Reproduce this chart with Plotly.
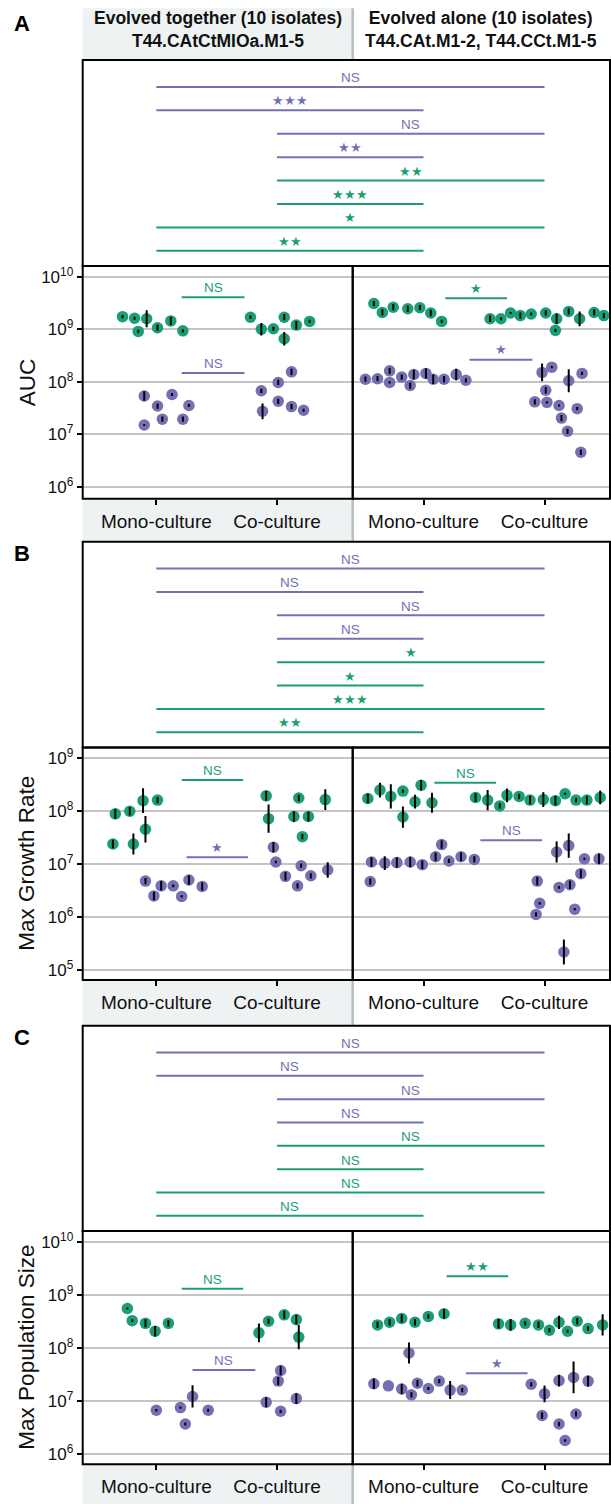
import plotly.graph_objects as go

# ---------------- data ----------------
FACETS = ["Evolved together (10 isolates)<br>T44.CAtCtMIOa.M1-5",
          "Evolved alone (10 isolates)<br>T44.CAt.M1-2, T44.CCt.M1-5"]
CULTURES = ["Mono-culture", "Co-culture"]
METRICS = ["AUC", "Max Growth Rate", "Max Population Size"]
PANEL_LETTERS = ["A", "B", "C"]
TICK_EXPONENTS = [[6, 7, 8, 9, 10], [5, 6, 7, 8, 9], [6, 7, 8, 9, 10]]

# each point: (jitter offset, log10 value, log10 half-width of the error bar)
AUC_TOG_MONO_G = [(-0.28, 9.24, 0.03), (-0.18, 9.21, 0.03), (-0.15, 8.96, 0.03), (-0.08, 9.20, 0.16),
                  (0.01, 9.03, 0.06), (0.12, 9.16, 0.08), (0.22, 8.97, 0.03)]
AUC_TOG_CO_G = [(-0.22, 9.23, 0.03), (-0.13, 9.00, 0.12), (-0.03, 9.01, 0.04), (0.06, 9.23, 0.06),
                (0.06, 8.82, 0.13), (0.16, 9.08, 0.08), (0.27, 9.15, 0.03)]
AUC_TOG_MONO_P = [(-0.10, 7.73, 0.09), (0.01, 7.54, 0.05), (0.13, 7.76, 0.03), (-0.10, 7.18, 0.02),
                  (0.05, 7.29, 0.05), (0.22, 7.29, 0.05), (0.27, 7.55, 0.03)]
AUC_TOG_CO_P = [(-0.13, 7.83, 0.04), (0.01, 7.99, 0.05), (0.12, 8.19, 0.06), (0.01, 7.63, 0.05),
                (0.12, 7.53, 0.05), (0.22, 7.46, 0.03), (-0.12, 7.44, 0.15)]
AUC_ALO_MONO_G = [(-0.41, 9.49, 0.05), (-0.34, 9.32, 0.06), (-0.25, 9.42, 0.06), (-0.13, 9.39, 0.06),
                  (-0.03, 9.41, 0.05), (0.06, 9.31, 0.06), (0.15, 9.15, 0.03)]
AUC_ALO_CO_G = [(-0.45, 9.20, 0.06), (-0.36, 9.20, 0.03), (-0.28, 9.31, 0.02), (-0.20, 9.26, 0.06),
                (-0.11, 9.29, 0.03), (0.01, 9.31, 0.05), (0.10, 9.20, 0.10), (0.09, 8.98, 0.03),
                (0.20, 9.34, 0.06), (0.29, 9.20, 0.14), (0.41, 9.32, 0.06), (0.49, 9.26, 0.05)]
AUC_ALO_MONO_P = [(-0.48, 8.05, 0.05), (-0.38, 8.06, 0.05), (-0.28, 8.21, 0.06), (-0.28, 7.99, 0.02),
                  (-0.18, 8.09, 0.05), (-0.11, 7.93, 0.06), (-0.08, 8.14, 0.09), (0.02, 8.16, 0.10),
                  (0.08, 8.05, 0.09), (0.17, 8.05, 0.06), (0.27, 8.14, 0.11), (0.35, 8.03, 0.04)]
AUC_ALO_CO_P = [(-0.02, 8.18, 0.17), (0.06, 8.28, 0.02), (0.01, 7.84, 0.06), (-0.08, 7.62, 0.05),
                (0.02, 7.61, 0.02), (0.12, 7.55, 0.02), (0.14, 7.31, 0.06), (0.19, 7.06, 0.05),
                (0.20, 8.02, 0.22), (0.27, 7.49, 0.03), (0.31, 8.16, 0.03), (0.30, 6.66, 0.05)]

MGR_TOG_MONO_G = [(-0.34, 7.95, 0.09), (-0.22, 8.00, 0.08), (-0.11, 8.20, 0.235), (0.01, 8.21, 0.06),
                  (-0.36, 7.38, 0.08), (-0.19, 7.38, 0.20), (-0.09, 7.66, 0.25)]
MGR_TOG_CO_G = [(-0.09, 8.29, 0.09), (-0.07, 7.86, 0.265), (0.18, 8.25, 0.06), (0.14, 7.90, 0.10),
                (0.21, 7.52, 0.05), (0.26, 7.90, 0.09), (0.40, 8.22, 0.195)]
MGR_TOG_MONO_P = [(-0.09, 6.68, 0.06), (-0.02, 6.40, 0.08), (0.04, 6.59, 0.09), (0.14, 6.59, 0.025),
                  (0.21, 6.39, 0.02), (0.27, 6.70, 0.09), (0.38, 6.58, 0.08)]
MGR_TOG_CO_P = [(-0.03, 7.32, 0.10), (-0.01, 7.04, 0.025), (0.07, 6.77, 0.08), (0.17, 6.59, 0.05),
                (0.20, 6.97, 0.04), (0.28, 6.78, 0.05), (0.42, 6.89, 0.145)]
MGR_ALO_MONO_G = [(-0.46, 8.24, 0.09), (-0.36, 8.40, 0.14), (-0.27, 8.28, 0.23), (-0.17, 7.89, 0.20),
                  (-0.17, 8.38, 0.03), (-0.07, 8.18, 0.13), (-0.02, 8.49, 0.10), (0.07, 8.16, 0.19)]
MGR_ALO_CO_G = [(-0.57, 8.26, 0.08), (-0.47, 8.21, 0.19), (-0.37, 8.10, 0.05), (-0.31, 8.30, 0.13),
                (-0.21, 8.28, 0.05), (-0.12, 8.21, 0.08), (-0.01, 8.22, 0.14), (0.09, 8.20, 0.09),
                (0.17, 8.33, 0.02), (0.26, 8.21, 0.04), (0.35, 8.21, 0.08), (0.46, 8.26, 0.13)]
MGR_ALO_MONO_P = [(-0.44, 6.67, 0.06), (-0.43, 7.04, 0.09), (-0.32, 7.02, 0.13), (-0.22, 7.03, 0.10),
                  (-0.11, 7.04, 0.10), (-0.01, 6.99, 0.08), (0.10, 7.14, 0.08), (0.15, 7.37, 0.08),
                  (0.21, 7.06, 0.04), (0.31, 7.14, 0.08), (0.42, 7.09, 0.06)]
MGR_ALO_CO_P = [(-0.06, 6.68, 0.08), (-0.04, 6.26, 0.025), (-0.07, 6.05, 0.04), (0.10, 7.23, 0.20),
                (0.20, 7.35, 0.23), (0.12, 6.56, 0.025), (0.21, 6.61, 0.08), (0.30, 6.82, 0.08),
                (0.33, 7.10, 0.02), (0.25, 6.15, 0.02), (0.45, 7.10, 0.10), (0.16, 5.34, 0.235)]

MPS_TOG_MONO_G = [(-0.24, 8.74, 0.02), (-0.20, 8.51, 0.025), (-0.09, 8.46, 0.075), (-0.01, 8.31, 0.10),
                  (0.10, 8.46, 0.06)]
MPS_TOG_CO_G = [(-0.15, 8.28, 0.175), (-0.07, 8.50, 0.05), (0.06, 8.62, 0.075), (0.16, 8.53, 0.09),
                (0.18, 8.20, 0.23)]
MPS_TOG_MONO_P = [(0.00, 6.82, 0.025), (0.20, 6.87, 0.02), (0.24, 6.56, 0.03), (0.30, 7.08, 0.21),
                  (0.43, 6.82, 0.03)]
MPS_TOG_CO_P = [(-0.09, 6.97, 0.095), (0.03, 6.80, 0.03), (0.03, 7.57, 0.09), (0.01, 7.37, 0.075),
                (0.16, 7.04, 0.10)]
MPS_ALO_MONO_G = [(-0.38, 8.43, 0.06), (-0.28, 8.48, 0.06), (-0.18, 8.55, 0.075), (-0.07, 8.48, 0.06),
                  (0.04, 8.59, 0.04), (0.17, 8.64, 0.09)]
MPS_ALO_CO_G = [(-0.38, 8.45, 0.09), (-0.28, 8.43, 0.11), (-0.16, 8.46, 0.04), (-0.05, 8.43, 0.06),
                (0.04, 8.33, 0.04), (0.12, 8.48, 0.125), (0.19, 8.31, 0.03), (0.27, 8.50, 0.06),
                (0.36, 8.36, 0.04), (0.48, 8.43, 0.20)]
MPS_ALO_MONO_P = [(-0.12, 7.90, 0.20), (-0.41, 7.32, 0.10), (-0.29, 7.28, 0.0), (-0.18, 7.22, 0.10),
                  (-0.10, 7.11, 0.05), (-0.05, 7.33, 0.06), (0.04, 7.23, 0.03), (0.13, 7.37, 0.04),
                  (0.22, 7.20, 0.17), (0.32, 7.20, 0.04)]
MPS_ALO_CO_P = [(-0.11, 7.31, 0.04), (0.00, 7.13, 0.157), (-0.02, 6.72, 0.06), (0.12, 6.56, 0.04),
                (0.17, 6.25, 0.025), (0.12, 7.38, 0.11), (0.24, 7.44, 0.30), (0.26, 6.75, 0.05),
                (0.36, 7.37, 0.10)]

# within-facet tests: (species, xmin, xmax, log10 level, label)
AUC_SIG_TOG = [("G", 1.21, 1.73, 9.61, "NS"), ("P", 1.21, 1.73, 8.17, "NS")]
AUC_SIG_ALO = [("G", 1.18, 1.69, 9.59, "*"), ("P", 1.38, 1.90, 8.42, "*")]
MGR_SIG_TOG = [("G", 1.21, 1.72, 8.59, "NS"), ("P", 1.25, 1.76, 7.13, "*")]
MGR_SIG_ALO = [("G", 1.09, 1.60, 8.54, "NS"), ("P", 1.47, 1.98, 7.45, "NS")]
MPS_SIG_TOG = [("G", 1.21, 1.72, 9.11, "NS"), ("P", 1.30, 1.82, 7.58, "NS")]
MPS_SIG_ALO = [("G", 1.19, 1.70, 9.35, "**"), ("P", 1.35, 1.86, 7.52, "*")]

# between-facet tests (top to bottom): species, (facet, culture) vs (facet, culture)
COMPARISONS = [("P", (0, 1), (1, 2)), ("P", (0, 1), (1, 1)), ("P", (0, 2), (1, 2)), ("P", (0, 2), (1, 1)),
               ("G", (0, 2), (1, 2)), ("G", (0, 2), (1, 1)), ("G", (0, 1), (1, 2)), ("G", (0, 1), (1, 1))]
AUC_CMP_LABELS = ["NS", "***", "NS", "**", "**", "***", "*", "**"]
MGR_CMP_LABELS = ["NS", "NS", "NS", "NS", "*", "*", "***", "**"]
MPS_CMP_LABELS = ["NS", "NS", "NS", "NS", "NS", "NS", "NS", "NS"]

PANEL_POINTS = [
    [{"G": [AUC_TOG_MONO_G, AUC_TOG_CO_G], "P": [AUC_TOG_MONO_P, AUC_TOG_CO_P]},
     {"G": [AUC_ALO_MONO_G, AUC_ALO_CO_G], "P": [AUC_ALO_MONO_P, AUC_ALO_CO_P]}],
    [{"G": [MGR_TOG_MONO_G, MGR_TOG_CO_G], "P": [MGR_TOG_MONO_P, MGR_TOG_CO_P]},
     {"G": [MGR_ALO_MONO_G, MGR_ALO_CO_G], "P": [MGR_ALO_MONO_P, MGR_ALO_CO_P]}],
    [{"G": [MPS_TOG_MONO_G, MPS_TOG_CO_G], "P": [MPS_TOG_MONO_P, MPS_TOG_CO_P]},
     {"G": [MPS_ALO_MONO_G, MPS_ALO_CO_G], "P": [MPS_ALO_MONO_P, MPS_ALO_CO_P]}],
]
PANEL_SIG = [[AUC_SIG_TOG, AUC_SIG_ALO], [MGR_SIG_TOG, MGR_SIG_ALO], [MPS_SIG_TOG, MPS_SIG_ALO]]
PANEL_CMP = [AUC_CMP_LABELS, MGR_CMP_LABELS, MPS_CMP_LABELS]

# ---------------- styling / layout ----------------
W, H = 611, 1504
COLORS = {"G": "#1B9E77", "P": "#7570B3"}
FONT = "Liberation Sans, Arial, Helvetica, sans-serif"
STRIP_FILL = "#EEF2F2"
STRIP_SEP = "#B3C1C1"

FACET_X = [(82.7, 352.7), (352.7, 610.0)]          # pixel extents of the two facets
FACET_XRANGE = [[0.39, 2.627], [0.415, 2.541]]
PANEL_UPPER = [(60.0, 266.0), (541.7, 747.5), (1025.7, 1231.0)]
PANEL_LOWER = [(266.0, 498.7), (747.5, 980.0), (1231.0, 1464.3)]
PANEL_YRANGE = [[5.777, 10.204], [4.811, 9.204], [5.80, 10.202]]
STRIP_BOTTOM = [541.7, 1025.7, 1504.0]
LETTER_Y = [24, 553, 1037]
UPPER_YRANGE = [7.65, -1.15]


def pxx(x):
    return x / W


def pxy(y):
    return 1 - y / H


def axkey(letter, i):
    return f"{letter}axis" if i == 1 else f"{letter}axis{i}"


def axref(letter, i):
    return letter if i == 1 else f"{letter}{i}"


def group_px(facet, culture):
    d0, d1 = FACET_X[facet]
    r0, r1 = FACET_XRANGE[facet]
    return d0 + (culture - r0) / (r1 - r0) * (d1 - d0)


def star(label):
    return label.replace("*", "\u2605")


def frame(x0, x1, y0, y1):
    return dict(type="rect", xref="paper", yref="paper", x0=pxx(x0), x1=pxx(x1), y0=pxy(y1),
                y1=pxy(y0), line=dict(color="black", width=2), fillcolor="rgba(0,0,0,0)",
                layer="above")


fig = go.Figure()
layout = dict(width=W, height=H, margin=dict(l=0, r=0, t=0, b=0), paper_bgcolor="white",
              plot_bgcolor="white", showlegend=False, font=dict(family=FONT, color="#111111"))
shapes, annotations = [], []

for p in range(3):
    up_top, up_bot = PANEL_UPPER[p]
    lo_top, lo_bot = PANEL_LOWER[p]
    exps = TICK_EXPONENTS[p]
    tickvals = [10 ** e for e in exps]
    ticktext = [f"10<sup>{e}</sup>" for e in exps]

    for f in range(2):
        i = 3 * p + 1 + f
        xr, yr = axref("x", i), axref("y", i)
        layout[axkey("x", i)] = dict(
            domain=[pxx(FACET_X[f][0]), pxx(FACET_X[f][1])], range=FACET_XRANGE[f], anchor=yr,
            tickvals=[1, 2], ticktext=CULTURES, ticks="outside", ticklen=5, tickwidth=1.5,
            tickcolor="black", tickfont=dict(size=19, color="#111111"), showgrid=False,
            zeroline=False, showline=False)
        layout[axkey("y", i)] = dict(
            domain=[pxy(lo_bot), pxy(lo_top)], type="log", range=PANEL_YRANGE[p], anchor=xr,
            tickvals=tickvals, ticktext=ticktext, showticklabels=(f == 0),
            ticks="outside" if f == 0 else "", ticklen=5, tickwidth=1.5, tickcolor="black",
            tickfont=dict(size=17, color="#111111"), showgrid=True, gridcolor="#C4C4C4",
            gridwidth=1.8, zeroline=False, showline=False)
        shapes.append(frame(FACET_X[f][0], FACET_X[f][1], lo_top, lo_bot))

        groups = PANEL_POINTS[p][f]
        # points
        for sp in ["G", "P"]:
            for c, pts in enumerate(groups[sp], start=1):
                fig.add_trace(go.Scatter(
                    x=[c + d for d, v, e in pts], y=[10 ** v for d, v, e in pts], mode="markers",
                    marker=dict(size=11.5, color=COLORS[sp], line=dict(width=0)),
                    xaxis=xr, yaxis=yr, hoverinfo="skip"))
        # error bars drawn on top of the points
        for sp in ["G", "P"]:
            for c, pts in enumerate(groups[sp], start=1):
                fig.add_trace(go.Scatter(
                    x=[c + d for d, v, e in pts], y=[10 ** v for d, v, e in pts], mode="markers",
                    marker=dict(size=1, color="rgba(0,0,0,0)"),
                    error_y=dict(type="data", symmetric=False,
                                 array=[10 ** (v + e) - 10 ** v for d, v, e in pts],
                                 arrayminus=[10 ** v - 10 ** (v - e) for d, v, e in pts],
                                 color="black", thickness=2, width=0),
                    xaxis=xr, yaxis=yr, hoverinfo="skip"))
        # within-facet significance
        for sp, x0, x1, lvl, lab in PANEL_SIG[p][f]:
            fig.add_trace(go.Scatter(x=[x0, x1], y=[10 ** lvl, 10 ** lvl], mode="lines",
                                     line=dict(color=COLORS[sp], width=2), xaxis=xr, yaxis=yr,
                                     hoverinfo="skip"))
            annotations.append(dict(x=(x0 + x1) / 2, y=lvl, xref=xr, yref=yr, text=star(lab),
                                    showarrow=False, yshift=9.5, yanchor="middle",
                                    font=dict(size=13.5 if lab == "NS" else 12.5, color=COLORS[sp])))

    # upper comparison box
    i = 3 * p + 3
    xr, yr = axref("x", i), axref("y", i)
    layout[axkey("x", i)] = dict(domain=[pxx(82.7), pxx(610.0)], range=[82.7, 610.0], anchor=yr,
                                 showticklabels=False, ticks="", showgrid=False, zeroline=False,
                                 showline=False)
    layout[axkey("y", i)] = dict(domain=[pxy(up_bot), pxy(up_top)], range=UPPER_YRANGE, anchor=xr,
                                 showticklabels=False, ticks="", showgrid=False, zeroline=False,
                                 showline=False)
    shapes.append(frame(82.7, 610.0, up_top, up_bot))
    for k, ((sp, g1, g2), lab) in enumerate(zip(COMPARISONS, PANEL_CMP[p])):
        x0, x1 = group_px(*g1), group_px(*g2)
        fig.add_trace(go.Scatter(x=[x0, x1], y=[k, k], mode="lines",
                                 line=dict(color=COLORS[sp], width=2), xaxis=xr, yaxis=yr,
                                 hoverinfo="skip"))
        annotations.append(dict(x=(x0 + x1) / 2, y=k, xref=xr, yref=yr, text=star(lab),
                                showarrow=False, yshift=9, yanchor="middle",
                                font=dict(size=13.5 if lab == "NS" else 12.5, color=COLORS[sp])))

    # bottom strip (x labels)
    shapes.append(dict(type="rect", xref="paper", yref="paper", x0=pxx(FACET_X[0][0]),
                       x1=pxx(FACET_X[0][1]), y0=pxy(STRIP_BOTTOM[p]), y1=pxy(lo_bot),
                       fillcolor=STRIP_FILL, line=dict(width=0), layer="below"))
    shapes.append(dict(type="line", xref="paper", yref="paper", x0=pxx(FACET_X[0][1]),
                       x1=pxx(FACET_X[0][1]), y0=pxy(STRIP_BOTTOM[p]), y1=pxy(lo_bot),
                       line=dict(color=STRIP_SEP, width=2.5), layer="below"))

    # y title & panel letter
    annotations.append(dict(x=pxx(27), y=pxy((lo_top + lo_bot) / 2), xref="paper", yref="paper",
                            text=METRICS[p], textangle=-90, showarrow=False, xanchor="center",
                            yanchor="middle", font=dict(size=22.5, color="#111111")))
    annotations.append(dict(x=pxx(22), y=pxy(LETTER_Y[p]), xref="paper", yref="paper",
                            text=f"<b>{PANEL_LETTERS[p]}</b>", showarrow=False, xanchor="center",
                            yanchor="middle", font=dict(size=22, color="black")))

# top facet header
shapes.append(dict(type="rect", xref="paper", yref="paper", x0=pxx(FACET_X[0][0]), x1=pxx(FACET_X[0][1]),
                   y0=pxy(60), y1=pxy(8.3), fillcolor=STRIP_FILL, line=dict(width=0), layer="below"))
shapes.append(dict(type="line", xref="paper", yref="paper", x0=pxx(FACET_X[0][1]), x1=pxx(FACET_X[0][1]),
                   y0=pxy(60), y1=pxy(8.3), line=dict(color=STRIP_SEP, width=2.5), layer="below"))
for f in range(2):
    annotations.append(dict(x=pxx((FACET_X[f][0] + FACET_X[f][1]) / 2), y=pxy(29.5), xref="paper",
                            yref="paper", text=f"<b>{FACETS[f]}</b>", showarrow=False,
                            xanchor="center", yanchor="middle",
                            font=dict(size=17.5, color="#111111")))

layout["shapes"] = shapes
layout["annotations"] = annotations
fig.update_layout(**layout)
fig.write_html("out.html", config={"displayModeBar": False},
               post_script="document.body.style.margin='0';document.body.style.padding='0';")
